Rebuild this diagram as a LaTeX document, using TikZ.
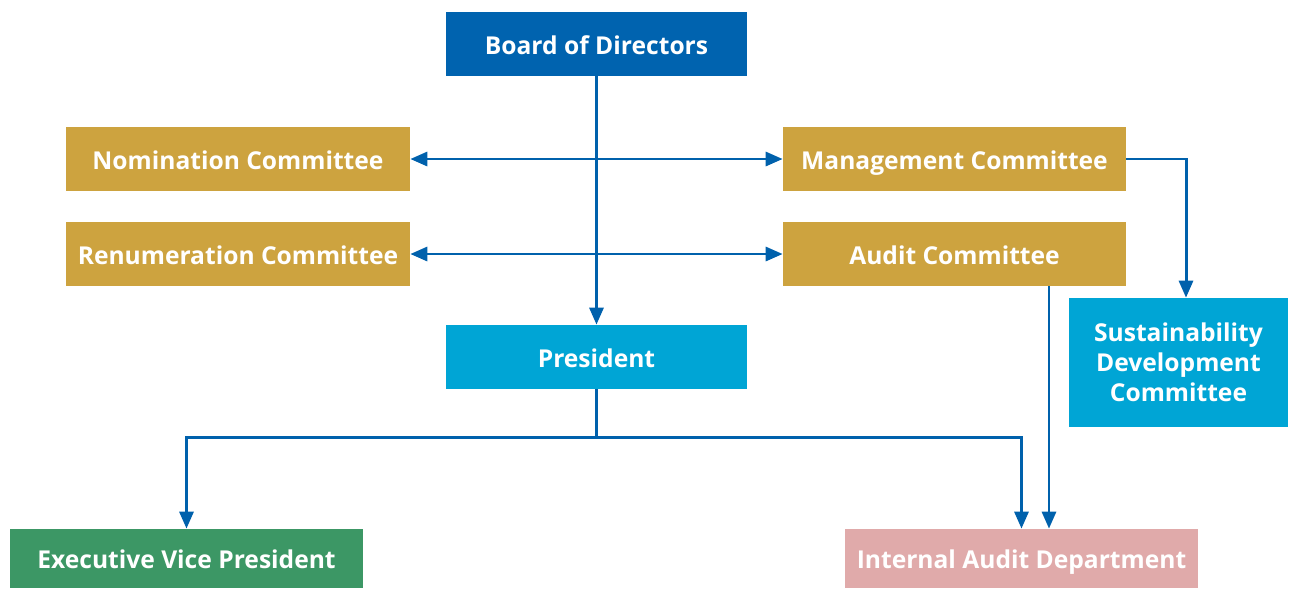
\documentclass[tikz,border=0pt]{standalone}
\usepackage{fontspec}
\setmainfont{Open Sans}
\usepackage{xcolor}
\usepackage{tikz}
\usetikzlibrary{arrows.meta}

\definecolor{boardblue}{HTML}{0063AF}
\definecolor{gold}{HTML}{CDA33F}
\definecolor{lightblue}{HTML}{00A5D5}
\definecolor{evpgreen}{HTML}{3C9765}
\definecolor{pink}{HTML}{E0AAAA}
\definecolor{linkblue}{HTML}{0061AC}

\begin{document}
\begin{tikzpicture}[x=0.02cm, y=-0.02cm,
        box/.style={rectangle, inner sep=0pt, text=white, font=\fontsize{14}{17}\selectfont\bfseries, align=center},
        oneline/.style={box, text height=11.5pt, text depth=0pt},
        arr/.style={draw=linkblue, line width=1.7pt, -{Triangle[length=0.34cm, width=0.28cm]}},
        darr/.style={draw=linkblue, line width=1.7pt, {Triangle[length=0.34cm, width=0.28cm]}-{Triangle[length=0.34cm, width=0.28cm]}}]
        \useasboundingbox (0,0) rectangle (1289,589);

        \node[oneline, fill=boardblue, minimum width=6.02cm, minimum height=1.28cm, name=board] at (596.5,44) {Board of Directors};
        \node[oneline, fill=gold, minimum width=6.88cm, minimum height=1.28cm, name=nom] at (238,159) {Nomination Committee};
        \node[oneline, fill=gold, minimum width=6.86cm, minimum height=1.28cm, name=mgmt] at (954.5,159) {Management Committee};
        \node[oneline, fill=gold, minimum width=6.88cm, minimum height=1.28cm, name=ren] at (238,254) {Renumeration Committee};
        \node[oneline, fill=gold, minimum width=6.86cm, minimum height=1.28cm, name=audit] at (954.5,254) {Audit Committee};
        \node[oneline, fill=lightblue, minimum width=6.02cm, minimum height=1.28cm, name=pres] at (596.5,357) {President};
        \node[box, fill=lightblue, minimum width=4.38cm, minimum height=2.58cm, name=sus] at (1178.5,362.5) {Sustainability\\Development\\Committee};
        \node[oneline, fill=evpgreen, minimum width=7.06cm, minimum height=1.18cm, name=evp] at (186.5,558.5) {Executive Vice President};
        \node[oneline, fill=pink, minimum width=7.06cm, minimum height=1.18cm, name=iad] at (1021.5,558.5) {Internal Audit Department};

        \coordinate (split) at (596.5,437);
        \coordinate (iadin) at ([xshift=0.55cm]iad.north);
        \coordinate (susin) at ([xshift=0.15cm]sus.north);

        \path[darr] (nom.east) -- (mgmt.west);
        \path[darr] (ren.east) -- (audit.west);
        \path[arr] (board.south) -- (pres.north);
        \path[arr] (mgmt.east) -| (susin);
        \path[arr] (audit.south -| iadin) -- (iadin);
        \draw[linkblue, line width=1.7pt] (pres.south) -- (split);
        \path[arr] (split) -| (evp.north);
        \path[arr] (split) -| (iad.north);
    \end{tikzpicture}
\end{document}
